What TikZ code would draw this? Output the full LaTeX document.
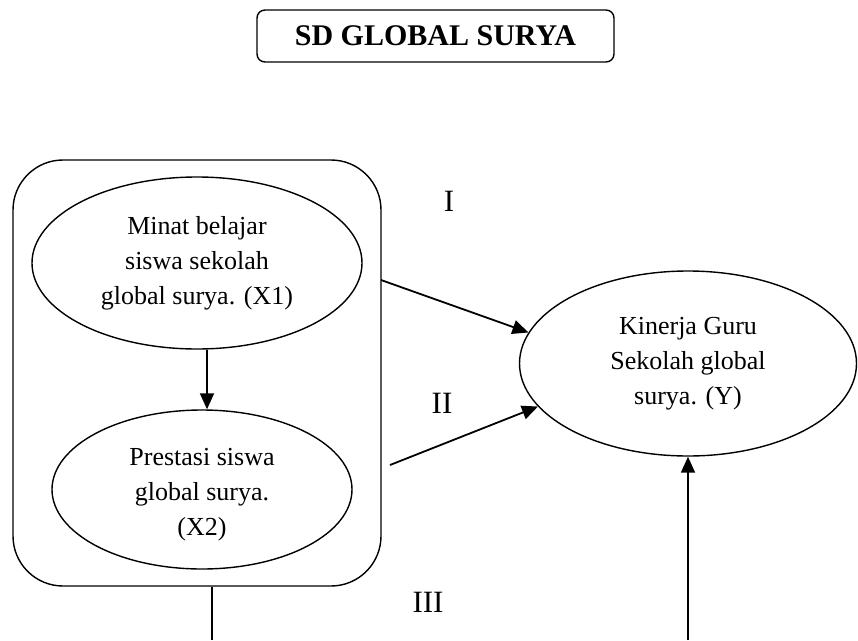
\documentclass[tikz,border=0pt]{standalone}
\usepackage{fontspec}
\setmainfont{Liberation Serif}
\usetikzlibrary{shapes.geometric,arrows.meta}
\tikzset{
  ell/.style={draw, ellipse, line width=1.4pt, inner sep=0pt, align=center,
    font=\fontsize{26}{35}\selectfont},
  grpbox/.style={draw, rectangle, rounded corners=50pt, line width=1.4pt, inner sep=0pt},
  titlebox/.style={draw, rectangle, rounded corners=8pt, line width=1.4pt, inner sep=0pt,
    minimum width=357pt, minimum height=52pt, font=\fontsize{30}{36}\selectfont\bfseries},
  lab/.style={font=\fontsize{31}{36}\selectfont, inner sep=0pt},
  arr/.style={line width=1.8pt, -{Triangle[length=16pt,width=14pt]}},
  ln/.style={line width=1.8pt}
}
\begin{document}
\begin{tikzpicture}[x=1pt,y=-1pt]
\useasboundingbox (0,0) rectangle (858,640);
\node[titlebox] (title) at (435.5,36) {SD GLOBAL SURYA};
\node[grpbox, minimum width=368pt, minimum height=426pt] (grp) at (197,373) {};
\node[ell, minimum width=330pt, minimum height=172pt] (x1) at (197,263)
  {Minat belajar\\siswa sekolah\\global surya. (X1)};
\node[ell, minimum width=300pt, minimum height=159pt] (x2) at (202,489.5)
  {\rule{0pt}{28pt}Prestasi siswa\\global surya.\\(X2)};
\node[ell, minimum width=337pt, minimum height=185pt] (y) at (688,363.5)
  {Kinerja Guru\\Sekolah global\\surya. (Y)};
\node[lab] (l1) at (449,201) {I};
\node[lab] (l2) at (442,403) {II};
\node[lab] (l3) at (428,602) {III};
\coordinate (a1) at (381,280);
\coordinate (a2) at (390,465);
\coordinate (b1) at (212,640);
\coordinate (b2) at (688,640);
\draw[arr] ([xshift=10pt]x1.south) -- ([xshift=5pt]x2.north);
\draw[arr] (a1) -- (y.169);
\draw[arr] (a2) -- (y.196.5);
\draw[ln] (grp.south -| b1) -- (b1);
\draw[arr] (b2) -- (y.south);
\end{tikzpicture}
\end{document}
